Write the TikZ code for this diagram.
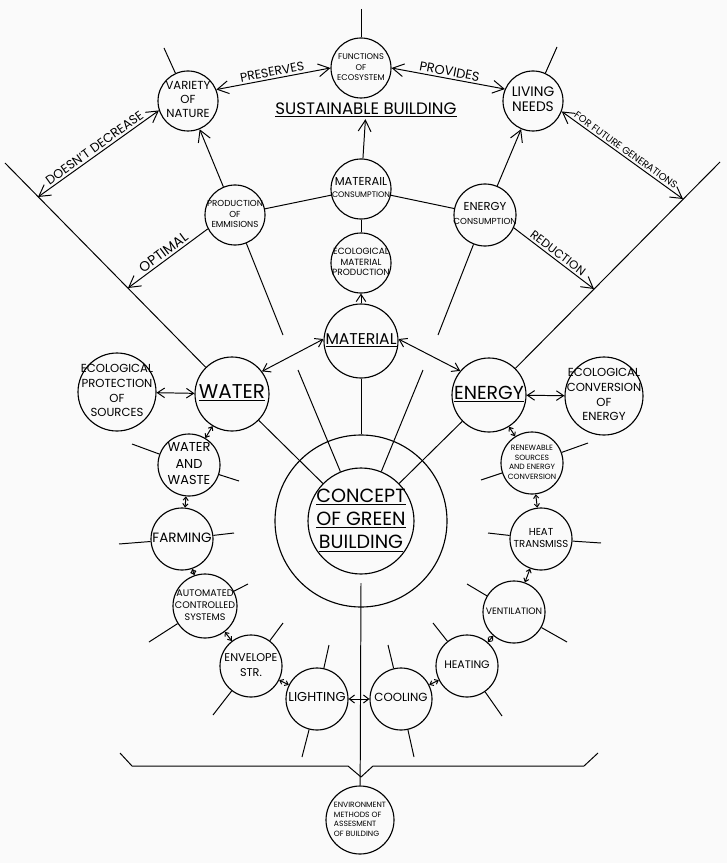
\documentclass[tikz,border=0pt]{standalone}
\usepackage{fontspec}
\setmainfont{Poppins}
\usetikzlibrary{arrows.meta}
\newcommand{\inside}[1]{\makebox[0pt]{\begin{tabular}{@{}c@{}}#1\end{tabular}}}
\newcommand{\insideleft}[1]{\makebox[0pt]{\begin{tabular}{@{}l@{}}#1\end{tabular}}}
\newcommand{\fsz}[2]{\fontsize{#1}{#2}\selectfont}

\begin{document}
\begin{tikzpicture}[
  x=0.25mm, y=-0.25mm,
  line width=0.7pt,
  bubble/.style={circle, draw, line width=0.8pt, inner sep=0pt, minimum size=15mm},
  chainbubble/.style={bubble, minimum size=15.5mm},
  mainbubble/.style={bubble, minimum size=18.5mm},
  ecobubble/.style={bubble, minimum size=19.5mm},
  arrow/.style={-{Straight Barb[length=2.8mm, width=3.2mm]}},
  dblarrow/.style={{Straight Barb[length=2.8mm, width=3.2mm]}-{Straight Barb[length=2.8mm, width=3.2mm]}},
  midarrow/.style={-{Straight Barb[length=1.8mm, width=2.4mm]}},
  middbl/.style={{Straight Barb[length=1.8mm, width=2.4mm]}-{Straight Barb[length=1.8mm, width=2.4mm]}},
  shortdbl/.style={{Straight Barb[length=1.3mm, width=2mm]}-{Straight Barb[length=1.3mm, width=2mm]}},
  smalldbl/.style={{Straight Barb[length=0.8mm, width=1.3mm]}-{Straight Barb[length=0.8mm, width=1.3mm]}},
  tag/.style={midway, above, sloped, inner sep=1.5pt},
]
\useasboundingbox (0,0) rectangle (727,863);
\fill[black!2] (0,0) rectangle (727,863);

% === TOP: SUSTAINABLE BUILDING ===
\node[bubble, font=\fsz{5.9}{7.3}] (functions) at (361,68) {\inside{FUNCTIONS\\OF\\ECOSYSTEM}};
\node[bubble, font=\fsz{8.3}{10}] (variety) at (188,101) {\inside{VARIETY\\OF\\NATURE}};
\node[bubble, font=\fsz{9.8}{10.5}] (living) at (533,101) {\inside{LIVING\\NEEDS}};
\node[font=\fsz{11.8}{13}, inner sep=1pt] (sustain) at (366,110) {\underline{SUSTAINABLE BUILDING}};

\node[bubble, font=\fsz{8.2}{9}] (matcons) at (361,189) {\inside{MATERAIL\\{\fsz{5.7}{6.5}CONSUMPTION}}};
\node[bubble, font=\fsz{6.2}{7.5}] (prodem) at (235,215) {\inside{PRODUCTION\\OF\\EMMISIONS}};
\node[bubble, minimum size=15.5mm, font=\fsz{8.2}{9.5}] (encons) at (485,215) {\inside{ENERGY\\{\fsz{6.2}{7}CONSUMPTION}}};
\node[bubble, font=\fsz{6.4}{7.7}] (ecomat) at (361,263) {\inside{ECOLOGICAL\\MATERIAL\\PRODUCTION}};

% === MIDDLE: MATERIAL, WATER, ENERGY ===
\node[mainbubble, font=\fsz{11.1}{12}] (material) at (361,341) {\inside{\underline{MATERIAL}}};
\node[mainbubble, font=\fsz{14.2}{15}] (water) at (232,394) {\inside{\underline{WATER}}};
\node[mainbubble, font=\fsz{13.4}{15}] (energy) at (489,395) {\inside{\underline{ENERGY}}};
\node[ecobubble, font=\fsz{8.3}{10.4}] (ecoprot) at (117,392) {\inside{ECOLOGICAL\\PROTECTION\\OF\\SOURCES}};
\node[ecobubble, font=\fsz{8.3}{10.4}] (ecoconv) at (604,396) {\inside{ECOLOGICAL\\CONVERSION\\OF\\ENERGY}};

% === CENTER: CONCEPT ===
\node[bubble, minimum size=43mm] (ring) at (361,521) {};
\node[bubble, minimum size=26.5mm, font=\fsz{13.6}{16.5}] (concept) at (361,521) {\inside{\underline{CONCEPT}\\\underline{OF GREEN}\\\underline{BUILDING}}};

% === LEFT CHAIN ===
\node[chainbubble, font=\fsz{9.2}{11.8}] (wwaste) at (189,465) {\inside{WATER\\AND\\WASTE}};
\node[chainbubble, font=\fsz{9.6}{11}] (farming) at (182,539) {\inside{FARMING}};
\node[chainbubble, minimum size=16mm, font=\fsz{6.8}{8.5}] (automated) at (205,606) {\inside{AUTOMATED\\CONTROLLED\\SYSTEMS}};
\node[chainbubble, font=\fsz{8}{10.4}] (envelope) at (251,666) {\inside{ENVELOPE\\STR.}};
\node[chainbubble, font=\fsz{9.2}{10}] (lighting) at (317,699) {\inside{LIGHTING}};

% === RIGHT CHAIN ===
\node[chainbubble, font=\fsz{8.4}{10}] (cooling) at (401,699) {\inside{COOLING}};
\node[chainbubble, font=\fsz{7.8}{9}] (heating) at (467,666) {\inside{HEATING}};
\node[chainbubble, font=\fsz{6.6}{8}] (ventilation) at (514,612) {\inside{VENTILATION}};
\node[chainbubble, font=\fsz{7.2}{8.8}] (heattr) at (541,539) {\inside{HEAT\\TRANSMISS}};
\node[chainbubble, font=\fsz{5.4}{6.8}] (renewable) at (532,463) {\inside{RENEWABLE\\SOURCES\\AND ENERGY\\CONVERSION}};

% === BOTTOM ===
\node[bubble, minimum size=17mm, font=\fsz{5.4}{6.8}] (assess) at (360,820) {\insideleft{ENVIRONMENT\\METHODS OF\\ASSESMENT\\OF BUILDING}};

% === FREE ENDS ===
\coordinate (topend) at (361,9);
\coordinate (ltop) at (5,163);
\coordinate (lmid) at (38,197);
\coordinate (llow) at (128,288);
\coordinate (rtop) at (720,162);
\coordinate (rmid) at (683,199);
\coordinate (rlow) at (594,289);
\coordinate (stem) at (361,583);

% === TOP CONNECTORS ===
\draw (topend) -- (functions);
\draw[dblarrow] (variety.22) -- (functions.180) node[tag, font=\fsz{8.9}{9}] {PRESERVES};
\draw[dblarrow] (functions.0) -- (living.157) node[tag, font=\fsz{9.2}{9}] {PROVIDES};
\draw[arrow] (matcons) -- (sustain);
\draw[arrow] (prodem) -- (variety);
\draw[arrow] (encons) -- (living);
\draw (prodem) -- (matcons);
\draw (matcons) -- (encons);
\draw (matcons) -- (ecomat);
\draw[midarrow] (material) -- (ecomat);

% === SIDE LINES ===
\draw (ltop) -- (water);
\draw (rtop) -- (energy);
\draw[dblarrow] (variety.198) -- (lmid) node[tag, font=\fsz{9}{10}] {DOESN'T DECREASE};
\draw[arrow] (prodem.207) -- (llow) node[tag, font=\fsz{9.8}{11}] {OPTIMAL};
\draw[dblarrow] (living.-20) -- (rmid) node[tag, font=\fsz{7}{8}] {FOR FUTURE GENERATIONS};
\draw[arrow] (encons.-24) -- (rlow) node[tag, font=\fsz{8.4}{9}] {REDUCTION};

% === MIDDLE CONNECTORS ===
\draw[middbl] (water.37) -- (material.177);
\draw[middbl] (material.3) -- (energy.140);
\draw[middbl] (ecoprot) -- (water);
\draw[middbl] (energy) -- (ecoconv);
\draw (material) -- (ring);
\draw (water) -- (concept);
\draw (energy) -- (concept);

% dangling spokes
\foreach \n/\m/\px/\py in {
  variety/vt/164/48, living/lt/557/47, prodem/pb/283/335, encons/eb/438/335,
  wwaste/wwl/132/444, wwaste/wwr/239/481, farming/fal/119/544, farming/far/234/533,
  automated/aur/248/584, automated/aul/149/642, envelope/enr/283/623, envelope/enl/213/715,
  lighting/lit/329/645, lighting/lib/302/757, cooling/cot/388/645, cooling/cob/414/757,
  heating/hel/433/623, heating/her/502/716, ventilation/vel/467/584, ventilation/ver/567/642,
  heattr/htl/488/533, heattr/htr/601/543, renewable/rer/588/443, renewable/rel/481/480}
  {\coordinate (\m) at (\px,\py); \draw (\n) -- (\m);}
\foreach \m/\px/\py in {cl/298/370, cr/423/370}
  {\coordinate (\m) at (\px,\py); \draw (\m) -- (concept);}

% === CHAIN ARROWS ===
\foreach \a/\b in {water/wwaste, wwaste/farming, farming/automated, automated/envelope,
  envelope/lighting, cooling/heating, heating/ventilation, ventilation/heattr,
  heattr/renewable, renewable/energy}
  \draw[smalldbl] (\a) -- (\b);
\draw[shortdbl] (lighting) -- (cooling);

% === BASE ===
\draw (stem) -- (assess);
\draw (120,753) -- (132,766) -- (348,766) -- (361,777) -- (373,766) -- (584,766) -- (598,753);

\end{tikzpicture}
\end{document}
